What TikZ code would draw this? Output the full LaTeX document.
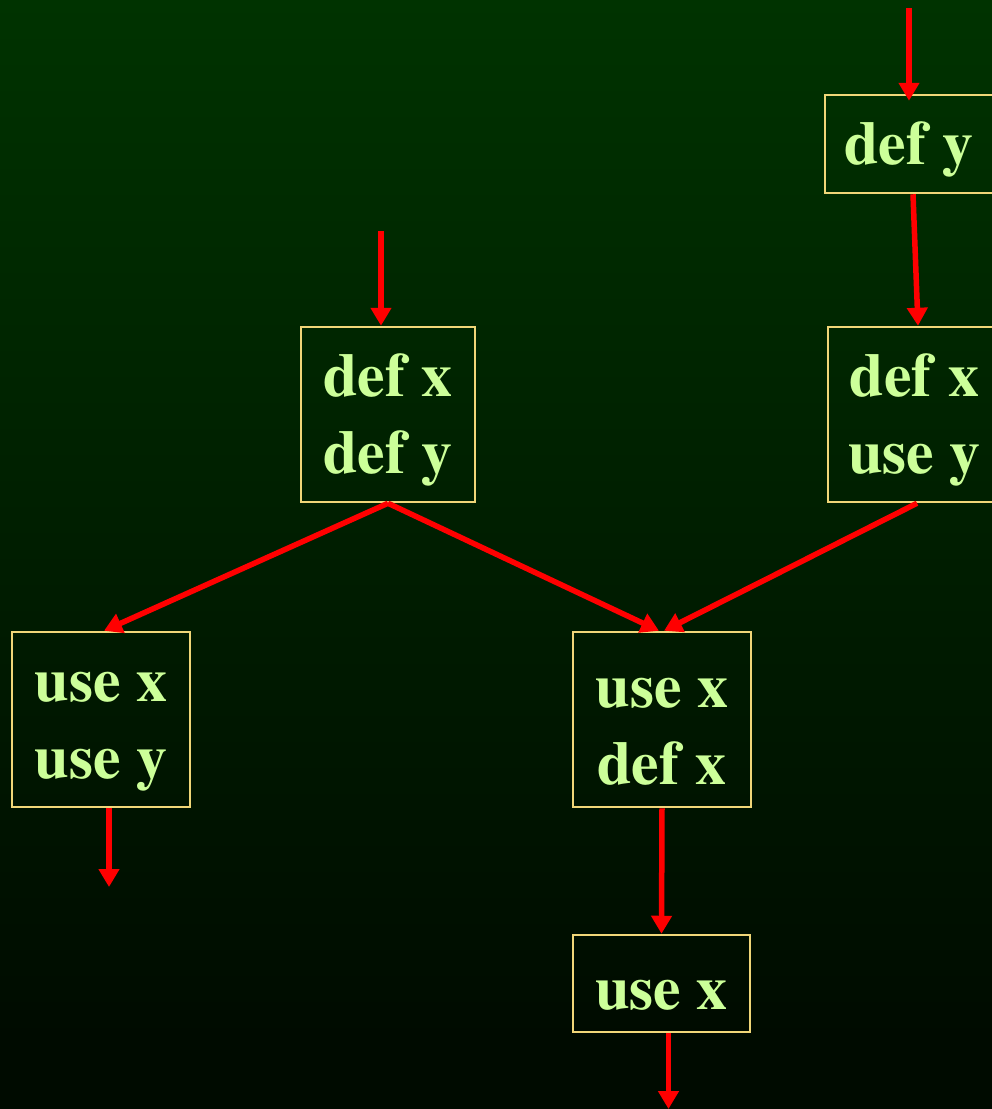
\documentclass[tikz,border=0pt]{standalone}
\usepackage[T1]{fontenc}
\usepackage{fontspec}
\setmainfont{Liberation Serif}
\usetikzlibrary{arrows.meta}
\definecolor{bgtop}{RGB}{0,51,0}
\definecolor{bgbot}{RGB}{0,11,0}
\definecolor{boxc}{RGB}{240,214,120}
\definecolor{txtc}{RGB}{204,255,153}
\definecolor{arrc}{RGB}{255,0,0}
\newcommand\ls{\rule[-2pt]{0pt}{56pt}}
\newcommand\boldtimes{\fontencoding{T1}\fontfamily{ptm}\fontseries{b}\fontshape{n}\fontsize{62}{77}\selectfont}
\tikzset{
  blk/.style={draw=boxc, line width=2.5pt, inner sep=0pt, align=center,
    text=txtc, font=\boldtimes},
  flow/.style={draw=arrc, line width=5.5pt, -{Triangle[length=18pt 0 0,width=20pt 0 0]}}
}
\begin{document}
\begin{tikzpicture}[x=1pt,y=-1pt]
\useasboundingbox (0,0) rectangle (992,1109);
\clip (0,0) rectangle (992,1109);
\shade[top color=bgtop, bottom color=bgbot] (0,0) rectangle (992,1040);
\fill[bgbot] (0,1039) rectangle (992,1109);

\node[blk, minimum width=168pt, minimum height=98pt] (dy) at (909,144) {\ls def y};
\node[blk, minimum width=174pt, minimum height=175pt] (dxdy) at (388,414.5) {\ls def x\\\ls def y};
\node[blk, minimum width=173pt, minimum height=175pt] (dxuy) at (914.5,414.5) {\ls def x\\\ls use y};
\node[blk, minimum width=178pt, minimum height=175pt] (uxuy) at (101,719.5) {\ls use x\\\ls use y};
\node[blk, minimum width=178pt, minimum height=175pt] (uxdx) at (662,719.5) {\ls use x\\\ls def x};
\node[blk, minimum width=177pt, minimum height=97pt] (ux) at (661.5,983.5) {\ls use x};

\coordinate (in1) at (909,8);
\coordinate (in2) at (381,231);
\coordinate (out1) at (109,887);
\coordinate (out2) at (668.5,1109);

\draw[flow, shorten >=-7pt] (in1) -- (dy.north);
\draw[flow] ([xshift=4pt]dy.south) -- ([xshift=3.5pt]dxuy.north);
\draw[flow] (in2) -- ([xshift=-7pt]dxdy.north);
\draw[flow] (dxdy.south) -- ([xshift=3pt]uxuy.north);
\draw[flow] (dxdy.south) -- ([xshift=-3pt]uxdx.north);
\draw[flow] ([xshift=2.5pt]dxuy.south) -- ([xshift=2pt]uxdx.north);
\draw[flow] ([xshift=8pt]uxuy.south) -- (out1);
\draw[flow] (uxdx.south) -- (ux.north);
\draw[flow] ([xshift=7pt]ux.south) -- (out2);
\end{tikzpicture}
\end{document}
